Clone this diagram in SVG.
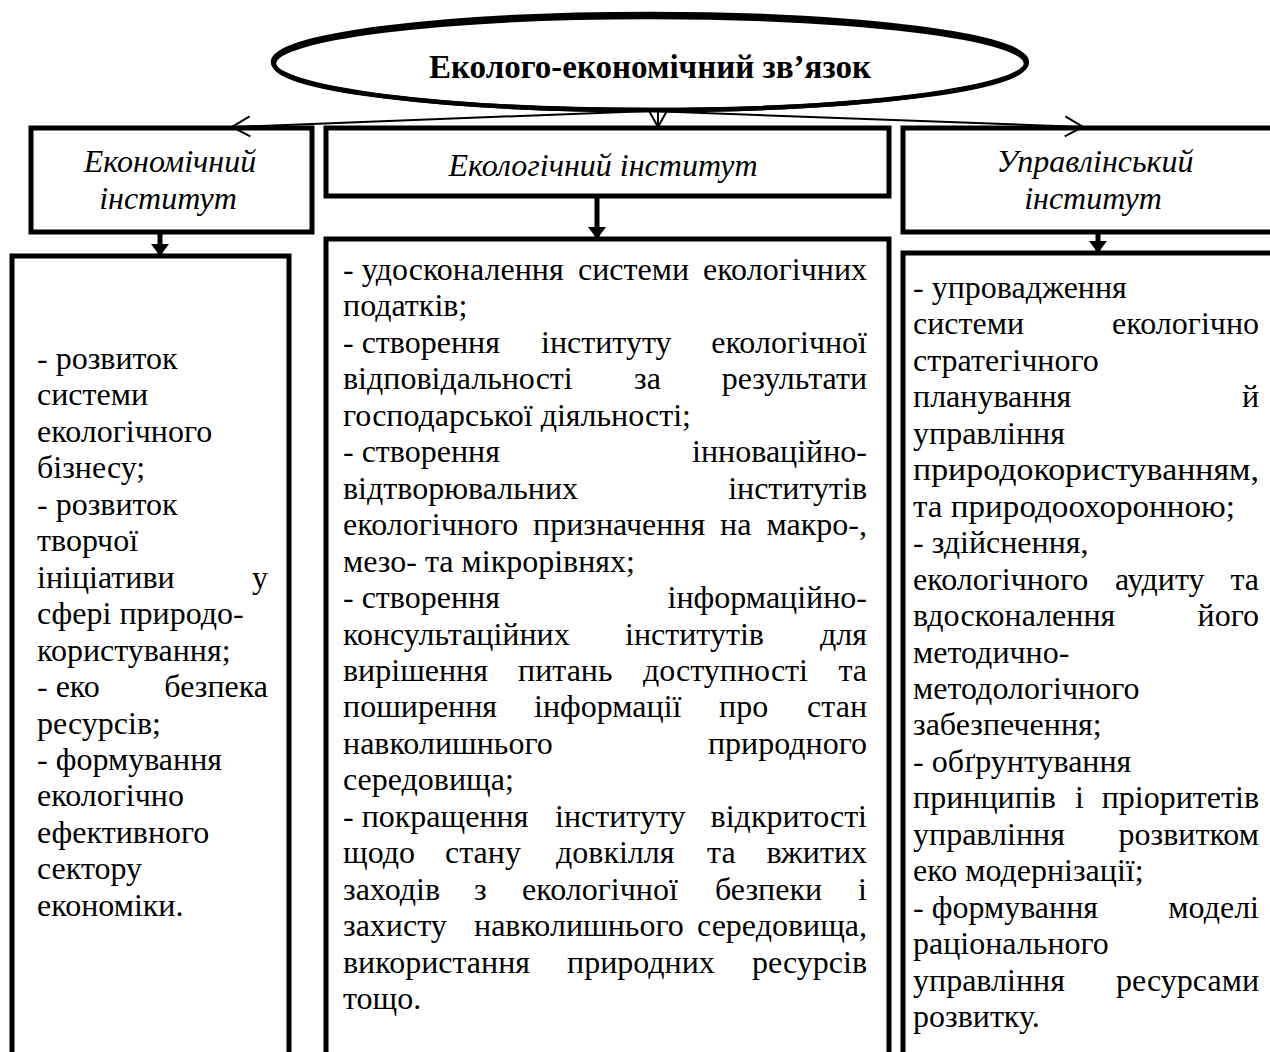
<svg xmlns="http://www.w3.org/2000/svg" width="1270" height="1052" viewBox="0 0 1270 1052">
<style>
.b{font-family:"Liberation Serif","Times New Roman",serif;font-size:32px;fill:#000}
.e{text-anchor:end}
.h{font-family:"Liberation Serif","Times New Roman",serif;font-size:32px;font-style:italic;fill:#000;text-anchor:middle}
.t{font-family:"Liberation Serif","Times New Roman",serif;font-size:33px;font-weight:bold;fill:#000;text-anchor:middle}
.box{fill:#fff;stroke:#000;stroke-width:5}
.thin{fill:none;stroke:#000;stroke-width:2}
.thick{fill:none;stroke:#000;stroke-width:5}
</style>
<defs>
<marker id="open" markerUnits="userSpaceOnUse" markerWidth="22" markerHeight="24" refX="18" refY="10" orient="auto" overflow="visible">
<path d="M0,0 L18,10 L0,20" fill="none" stroke="#000" stroke-width="2"/>
</marker>
<marker id="solid" markerUnits="userSpaceOnUse" markerWidth="14" markerHeight="20" refX="12" refY="9" orient="auto" overflow="visible">
<path d="M0,0 L12,9 L0,18 Z" fill="#000"/>
</marker>
</defs>
<rect width="1270" height="1052" fill="#fff"/>

<g id="root">
<ellipse cx="650" cy="62" rx="377" ry="48" fill="#fff" stroke="#000" stroke-width="4.5"/>
<ellipse cx="650" cy="63.5" rx="376" ry="46.5" fill="none" stroke="#000" stroke-width="4.5"/>
<text class="t" x="650" y="78">Еколого-економічний зв’язок</text>
</g>

<g id="econ">
<rect class="box" x="31" y="128" width="281" height="104"/>
<text class="h" x="170" y="172">Економічний</text>
<text class="h" x="168" y="209">інститут</text>
</g>

<g id="ecol">
<rect class="box" x="326" y="128" width="563" height="68"/>
<text class="h" x="603" y="176">Екологічний інститут</text>
</g>

<g id="mgmt">
<rect class="box" x="903" y="128" width="400" height="104"/>
<text class="h" x="1095" y="172">Управлінський</text>
<text class="h" x="1093" y="209">інститут</text>
</g>

<g id="econ-list">
<rect class="box" x="12" y="256" width="277" height="850"/>
<text class="b" x="37" y="369">- розвиток</text>
<text class="b" x="37" y="405.45">системи</text>
<text class="b" x="37" y="441.9">екологічного</text>
<text class="b" x="37" y="478.35">бізнесу;</text>
<text class="b" x="37" y="514.8">- розвиток</text>
<text class="b" x="37" y="551.25">творчої</text>
<text class="b" x="37" y="587.7">ініціативи</text><text class="b e" x="268" y="587.7">у</text>
<text class="b" x="37" y="624.15">сфері природо-</text>
<text class="b" x="37" y="660.6">користування;</text>
<text class="b" x="37" y="697.05">- еко</text><text class="b e" x="268" y="697.05">безпека</text>
<text class="b" x="37" y="733.5">ресурсів;</text>
<text class="b" x="37" y="769.95">- формування</text>
<text class="b" x="37" y="806.4">екологічно</text>
<text class="b" x="37" y="842.85">ефективного</text>
<text class="b" x="37" y="879.3">сектору</text>
<text class="b" x="37" y="915.75">економіки.</text>
</g>

<g id="ecol-list">
<rect class="box" x="326" y="239" width="563" height="850"/>
<text class="b" x="343" y="280">- удосконалення</text><text class="b" x="578" y="280">системи</text><text class="b e" x="867" y="280">екологічних</text>
<text class="b" x="343" y="316.45">податків;</text>
<text class="b" x="343" y="352.9">- створення</text><text class="b" x="541" y="352.9">інституту</text><text class="b e" x="867" y="352.9">екологічної</text>
<text class="b" x="343" y="389.35">відповідальності</text><text class="b" x="634" y="389.35">за</text><text class="b e" x="867" y="389.35">результати</text>
<text class="b" x="343" y="425.8">господарської діяльності;</text>
<text class="b" x="343" y="462.25">- створення</text><text class="b e" x="867" y="462.25">інноваційно-</text>
<text class="b" x="343" y="498.7">відтворювальних</text><text class="b e" x="867" y="498.7">інститутів</text>
<text class="b" x="343" y="535.15">екологічного</text><text class="b" x="533" y="535.15">призначення</text><text class="b" x="720" y="535.15">на</text><text class="b e" x="867" y="535.15">макро-,</text>
<text class="b" x="343" y="571.6">мезо- та мікрорівнях;</text>
<text class="b" x="343" y="608.05">- створення</text><text class="b e" x="867" y="608.05">інформаційно-</text>
<text class="b" x="343" y="644.5">консультаційних</text><text class="b" x="625" y="644.5">інститутів</text><text class="b e" x="867" y="644.5">для</text>
<text class="b" x="343" y="680.95">вирішення</text><text class="b" x="518" y="680.95">питань</text><text class="b" x="643" y="680.95">доступності</text><text class="b e" x="867" y="680.95">та</text>
<text class="b" x="343" y="717.4">поширення</text><text class="b" x="534" y="717.4">інформації</text><text class="b" x="719" y="717.4">про</text><text class="b e" x="867" y="717.4">стан</text>
<text class="b" x="343" y="753.85">навколишнього</text><text class="b e" x="867" y="753.85">природного</text>
<text class="b" x="343" y="790.3">середовища;</text>
<text class="b" x="343" y="826.75">- покращення</text><text class="b" x="555" y="826.75">інституту</text><text class="b e" x="867" y="826.75">відкритості</text>
<text class="b" x="343" y="863.2">щодо</text><text class="b" x="445" y="863.2">стану</text><text class="b" x="556" y="863.2">довкілля</text><text class="b" x="707" y="863.2">та</text><text class="b e" x="867" y="863.2">вжитих</text>
<text class="b" x="343" y="899.65">заходів</text><text class="b" x="474" y="899.65">з</text><text class="b" x="522" y="899.65">екологічної</text><text class="b" x="715" y="899.65">безпеки</text><text class="b e" x="867" y="899.65">і</text>
<text class="b" x="343" y="936.1">захисту</text><text class="b" x="474" y="936.1">навколишнього</text><text class="b e" x="867" y="936.1">середовища,</text>
<text class="b" x="343" y="972.55">використання</text><text class="b" x="567" y="972.55">природних</text><text class="b e" x="867" y="972.55">ресурсів</text>
<text class="b" x="343" y="1009">тощо.</text>
</g>

<g id="mgmt-list">
<rect class="box" x="903" y="253" width="400" height="850"/>
<text class="b" x="913" y="298">- упровадження</text>
<text class="b" x="913" y="334.45">системи</text><text class="b e" x="1259" y="334.45">екологічно</text>
<text class="b" x="913" y="370.9">стратегічного</text>
<text class="b" x="913" y="407.35">планування</text><text class="b e" x="1259" y="407.35">й</text>
<text class="b" x="913" y="443.8">управління</text>
<text class="b" x="913" y="480.25" textLength="346" lengthAdjust="spacingAndGlyphs">природокористуванням,</text>
<text class="b" x="913" y="516.7" textLength="322" lengthAdjust="spacingAndGlyphs">та природоохоронною;</text>
<text class="b" x="913" y="553.15">- здійснення,</text>
<text class="b" x="913" y="589.6">екологічного</text><text class="b" x="1115" y="589.6">аудиту</text><text class="b e" x="1259" y="589.6">та</text>
<text class="b" x="913" y="626.05">вдосконалення</text><text class="b e" x="1259" y="626.05">його</text>
<text class="b" x="913" y="662.5">методично-</text>
<text class="b" x="913" y="698.95">методологічного</text>
<text class="b" x="913" y="735.4">забезпечення;</text>
<text class="b" x="913" y="771.85">- обґрунтування</text>
<text class="b" x="913" y="808.3">принципів</text><text class="b" x="1075" y="808.3">і</text><text class="b e" x="1259" y="808.3">пріоритетів</text>
<text class="b" x="913" y="844.75">управління</text><text class="b e" x="1259" y="844.75">розвитком</text>
<text class="b" x="913" y="881.2">еко модернізації;</text>
<text class="b" x="913" y="917.65">- формування</text><text class="b e" x="1259" y="917.65">моделі</text>
<text class="b" x="913" y="954.1">раціонального</text>
<text class="b" x="913" y="990.55">управління</text><text class="b e" x="1259" y="990.55">ресурсами</text>
<text class="b" x="913" y="1027">розвитку.</text>
</g>

<g id="connectors">
<line class="thin" x1="650" y1="111" x2="232" y2="127" marker-end="url(#open)"/>
<line class="thin" x1="650" y1="111" x2="1083" y2="127" marker-end="url(#open)"/>
<line class="thin" x1="658" y1="109" x2="658" y2="127" marker-end="url(#open)"/>
<line class="thick" x1="160" y1="234" x2="160" y2="256" marker-end="url(#solid)"/>
<line class="thick" x1="597" y1="198" x2="597" y2="239" marker-end="url(#solid)"/>
<line class="thick" x1="1098" y1="234" x2="1098" y2="253" marker-end="url(#solid)"/>
</g>
</svg>
